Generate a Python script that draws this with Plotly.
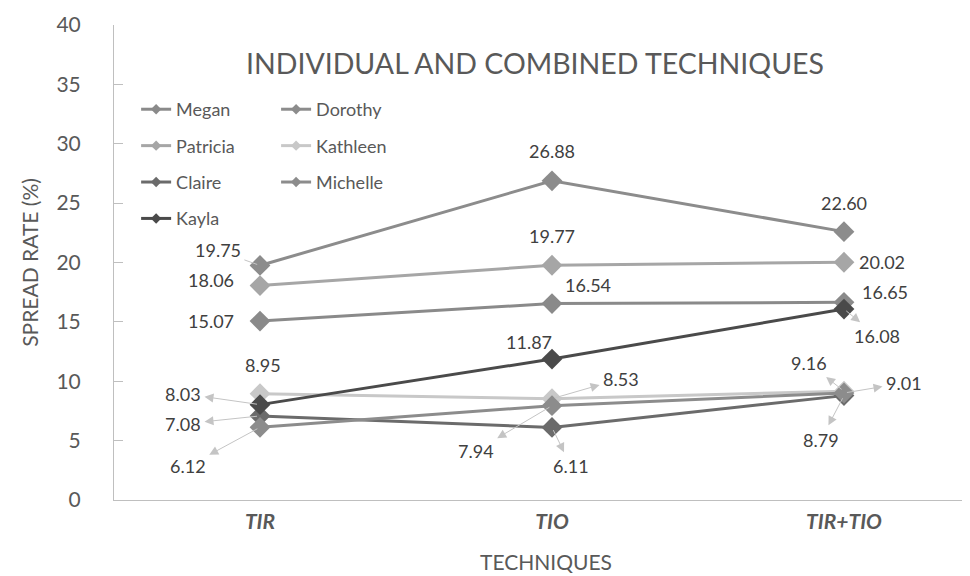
import plotly.graph_objects as go

categories = ["TIR", "TIO", "TIR+TIO"]
tick_text = ["<b><i>TIR</i></b>", "<b><i>TIO</i></b>", "<b><i>TIR+TIO</i></b>"]

megan = [15.07, 16.54, 16.65]
dorothy = [19.75, 26.88, 22.60]
patricia = [18.06, 19.77, 20.02]
kathleen = [8.95, 8.53, 9.16]
claire = [7.08, 6.11, 8.79]
michelle = [6.12, 7.94, 9.01]
kayla = [8.03, 11.87, 16.08]

series = [
    ("Megan", megan, "#8a8a8a", "legend"),
    ("Dorothy", dorothy, "#8c8c8c", "legend2"),
    ("Patricia", patricia, "#a6a6a6", "legend"),
    ("Kathleen", kathleen, "#c8c8c8", "legend2"),
    ("Claire", claire, "#6b6b6b", "legend"),
    ("Michelle", michelle, "#8c8c8c", "legend2"),
    ("Kayla", kayla, "#4a4a4a", "legend"),
]

xs = [0, 1, 2]
FONT = "Lato, Open Sans, sans-serif"
fig = go.Figure()
for name, vals, col, lg in series:
    fig.add_trace(go.Scatter(
        x=xs, y=vals, mode="lines+markers", name=name,
        line=dict(color=col, width=3),
        marker=dict(symbol="diamond", size=16, color=col),
        showlegend=False, hoverinfo="skip"))

# legend entries (small markers as in reference)
for name, vals, col, lg in series:
    fig.add_trace(go.Scatter(
        x=[None], y=[None], mode="lines+markers", name=name,
        line=dict(color=col, width=3),
        marker=dict(symbol="diamond", size=8, color=col),
        legend=lg, legendgroup=name))

# label placement: (xshift/ax, yshift/ay, arrow)
label_layout = {
    "Megan": [(-49, 0, False), (36, 19, False), (41, 10, False)],
    "Dorothy": [(-42, -15, "line"), (0, 30, False), (0, 29, False)],
    "Patricia": [(-49, 6, False), (0, 29, False), (38, 0, False)],
    "Kathleen": [(3, 29, False), (69, -20, True), (-35, -28, True)],
    "Claire": [(-77, 8, True), (19, 39, True), (-23, 44, True)],
    "Michelle": [(-72, 39, True), (-76, 45, True), (60, -10, True)],
    "Kayla": [(-77, -11, True), (-23, 17, False), (33, 27, True)],
}
lab_font = dict(family=FONT, size=18, color="#404040")
for name, vals, col, lg in series:
    for i, v in enumerate(vals):
        dx, dy, arr = label_layout[name][i]
        txt = f"{v:.2f}"
        if arr:
            fig.add_annotation(
                x=xs[i], y=v, text=txt, showarrow=True, ax=dx, ay=dy,
                arrowcolor="#c4c4c4", arrowwidth=1,
                arrowhead=0, arrowside="start",
                startarrowhead=0 if arr == "line" else 2,
                startarrowsize=1.8, standoff=3, startstandoff=2,
                font=lab_font)
        else:
            fig.add_annotation(
                x=xs[i], y=v, text=txt, showarrow=False,
                xshift=dx, yshift=dy, font=lab_font)

fig.add_annotation(
    x=0.487, y=0.92, xref="paper", yref="paper", xanchor="center",
    yanchor="middle",
    text="INDIVIDUAL AND COMBINED TECHNIQUES", showarrow=False,
    font=dict(family=FONT, size=28.5, color="#595959"))

axis_font = dict(family=FONT, color="#595959")
fig.update_layout(
    width=970, height=576,
    margin=dict(l=106, r=0, t=17, b=83.5),
    paper_bgcolor="white", plot_bgcolor="white",
    xaxis=dict(
        range=[-0.5, 2.459], tickvals=xs, ticktext=tick_text,
        showgrid=False, zeroline=False, showline=True,
        linecolor="#bfbfbf", linewidth=1, ticks="",
        ticklabelstandoff=3, automargin=False,
        tickfont=dict(size=21, **axis_font),
        title=dict(text="TECHNIQUES", standoff=23,
                   font=dict(size=21, **axis_font))),
    yaxis=dict(
        range=[0, 40], dtick=5, showgrid=False, zeroline=False,
        showline=True, linecolor="#bfbfbf", linewidth=1,
        ticks="inside", ticklen=9, tickcolor="#bfbfbf",
        ticklabelstandoff=28, automargin=False,
        tickfont=dict(size=21, **axis_font),
        title=dict(text="SPREAD RATE (%)", standoff=12,
                   font=dict(size=21, **axis_font))),
    legend=dict(x=0.0256, y=0.861, xanchor="left", yanchor="top",
                bgcolor="rgba(0,0,0,0)", tracegroupgap=10,
                font=dict(size=18, **axis_font)),
    legend2=dict(x=0.1876, y=0.861, xanchor="left", yanchor="top",
                 bgcolor="rgba(0,0,0,0)", tracegroupgap=10,
                 font=dict(size=18, **axis_font)),
    showlegend=True,
)

fig.write_html("out.html")
